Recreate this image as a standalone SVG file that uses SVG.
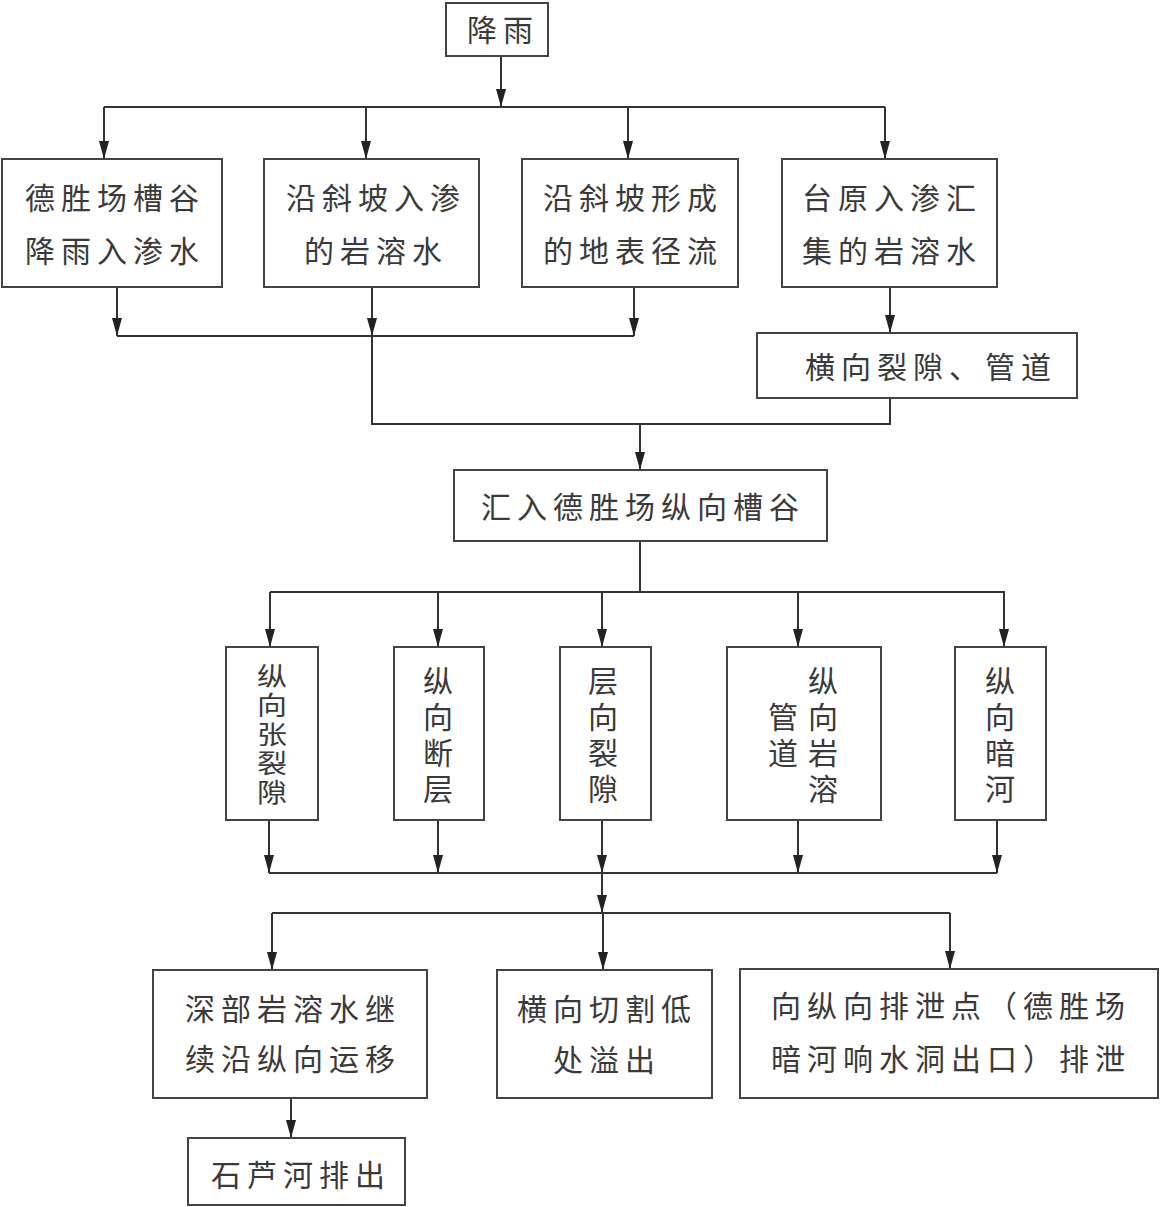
<svg xmlns="http://www.w3.org/2000/svg" width="1163" height="1207" viewBox="0 0 1163 1207">
<style>
.box{fill:#fff;stroke:#444;stroke-width:2}
.t{font-family:"Liberation Sans","Noto Sans CJK SC","Noto Sans CJK JP",sans-serif;font-size:30px;fill:#3a3a3a;letter-spacing:6px;text-anchor:middle}
.v{font-family:"Liberation Sans","Noto Sans CJK SC","Noto Sans CJK JP",sans-serif;font-size:30px;fill:#3a3a3a;text-anchor:middle}
.c{fill:none;stroke:#333;stroke-width:2}
.a{fill:none;stroke:#333;stroke-width:2;marker-end:url(#ah)}
</style>
<defs>
<marker id="ah" viewBox="0 0 18 10" markerWidth="18" markerHeight="10" refX="18" refY="5" orient="auto" markerUnits="userSpaceOnUse">
<path d="M0,0 L18,5 L0,10 z" fill="#222"/>
</marker>
</defs>
<rect width="1163" height="1207" fill="#fff"/>
<g id="connectors">
<path class="a" d="M501,56 V107"/>
<path class="c" d="M104,107 H885"/>
<path class="a" d="M104,107 V159"/>
<path class="a" d="M366,107 V159"/>
<path class="a" d="M628,107 V159"/>
<path class="a" d="M885,107 V159"/>
<path class="a" d="M117,287 V336"/>
<path class="a" d="M372,287 V336"/>
<path class="a" d="M634,287 V336"/>
<path class="c" d="M117,336 H634"/>
<path class="a" d="M890,287 V333"/>
<path class="c" d="M890,398 V424 H372 V336"/>
<path class="a" d="M640,424 V470"/>
<path class="c" d="M640,541 V592"/>
<path class="c" d="M270,592 H1005"/>
<path class="a" d="M270,592 V647"/>
<path class="a" d="M438,592 V647"/>
<path class="a" d="M602,592 V647"/>
<path class="a" d="M798,592 V647"/>
<path class="a" d="M1004,592 V647"/>
<path class="a" d="M269,820 V873"/>
<path class="a" d="M438,820 V873"/>
<path class="a" d="M602,820 V873"/>
<path class="a" d="M798,820 V873"/>
<path class="a" d="M997,820 V873"/>
<path class="c" d="M269,873 H997"/>
<path class="a" d="M602,873 V913"/>
<path class="c" d="M272,913 H950"/>
<path class="a" d="M272,913 V970"/>
<path class="a" d="M603,913 V970"/>
<path class="a" d="M950,913 V969"/>
<path class="a" d="M291,1098 V1138"/>
</g>
<g id="n_rain">
<rect class="box" x="446" y="3" width="102" height="53"/>
<text class="t" x="503" y="41">降雨</text>
</g>
<g id="n_a1">
<rect class="box" x="2" y="159" width="220" height="128"/>
<text class="t" x="115" y="209">德胜场槽谷</text>
<text class="t" x="115" y="262">降雨入渗水</text>
</g>
<g id="n_a2">
<rect class="box" x="264" y="159" width="215" height="128"/>
<text class="t" x="376" y="209">沿斜坡入渗</text>
<text class="t" x="376" y="262">的岩溶水</text>
</g>
<g id="n_a3">
<rect class="box" x="522" y="159" width="216" height="128"/>
<text class="t" x="633" y="209">沿斜坡形成</text>
<text class="t" x="633" y="262">的地表径流</text>
</g>
<g id="n_a4">
<rect class="box" x="782" y="159" width="215" height="128"/>
<text class="t" x="892" y="209">台原入渗汇</text>
<text class="t" x="892" y="262">集的岩溶水</text>
</g>
<g id="n_b1">
<rect class="box" x="757" y="333" width="320" height="65"/>
<text class="t" x="931" y="378">横向裂隙、管道</text>
</g>
<g id="n_c">
<rect class="box" x="454" y="470" width="373" height="71"/>
<text class="t" x="643" y="518">汇入德胜场纵向槽谷</text>
</g>
<g id="n_d1">
<rect class="box" x="226" y="647" width="92" height="173"/>
<text class="v" transform="translate(272,686) scale(1,0.86)">纵</text>
<text class="v" transform="translate(272,715) scale(1,0.86)">向</text>
<text class="v" transform="translate(272,744) scale(1,0.86)">张</text>
<text class="v" transform="translate(272,773) scale(1,0.86)">裂</text>
<text class="v" transform="translate(272,802) scale(1,0.86)">隙</text>
</g>
<g id="n_d2">
<rect class="box" x="394" y="647" width="90" height="173"/>
<text class="v" x="438" y="692">纵</text>
<text class="v" x="438" y="728">向</text>
<text class="v" x="438" y="764">断</text>
<text class="v" x="438" y="800">层</text>
</g>
<g id="n_d3">
<rect class="box" x="560" y="647" width="91" height="173"/>
<text class="v" x="603" y="692">层</text>
<text class="v" x="603" y="728">向</text>
<text class="v" x="603" y="764">裂</text>
<text class="v" x="603" y="800">隙</text>
</g>
<g id="n_d4">
<rect class="box" x="727" y="647" width="154" height="173"/>
<text class="v" x="823" y="692">纵</text>
<text class="v" x="823" y="728">向</text>
<text class="v" x="823" y="764">岩</text>
<text class="v" x="823" y="800">溶</text>
<text class="v" x="783" y="728">管</text>
<text class="v" x="783" y="764">道</text>
</g>
<g id="n_d5">
<rect class="box" x="955" y="647" width="91" height="173"/>
<text class="v" x="1000" y="692">纵</text>
<text class="v" x="1000" y="728">向</text>
<text class="v" x="1000" y="764">暗</text>
<text class="v" x="1000" y="800">河</text>
</g>
<g id="n_e1">
<rect class="box" x="153" y="970" width="274" height="128"/>
<text class="t" x="293" y="1020">深部岩溶水继</text>
<text class="t" x="293" y="1070">续沿纵向运移</text>
</g>
<g id="n_e2">
<rect class="box" x="497" y="970" width="215" height="128"/>
<text class="t" x="607" y="1020">横向切割低</text>
<text class="t" x="607" y="1071">处溢出</text>
</g>
<g id="n_e3">
<rect class="box" x="740" y="969" width="418" height="129"/>
<text class="t" x="951" y="1017">向纵向排泄点（德胜场</text>
<text class="t" x="951" y="1070">暗河响水洞出口）排泄</text>
</g>
<g id="n_f1">
<rect class="box" x="188" y="1138" width="217" height="67"/>
<text class="t" x="301" y="1186">石芦河排出</text>
</g>
</svg>
